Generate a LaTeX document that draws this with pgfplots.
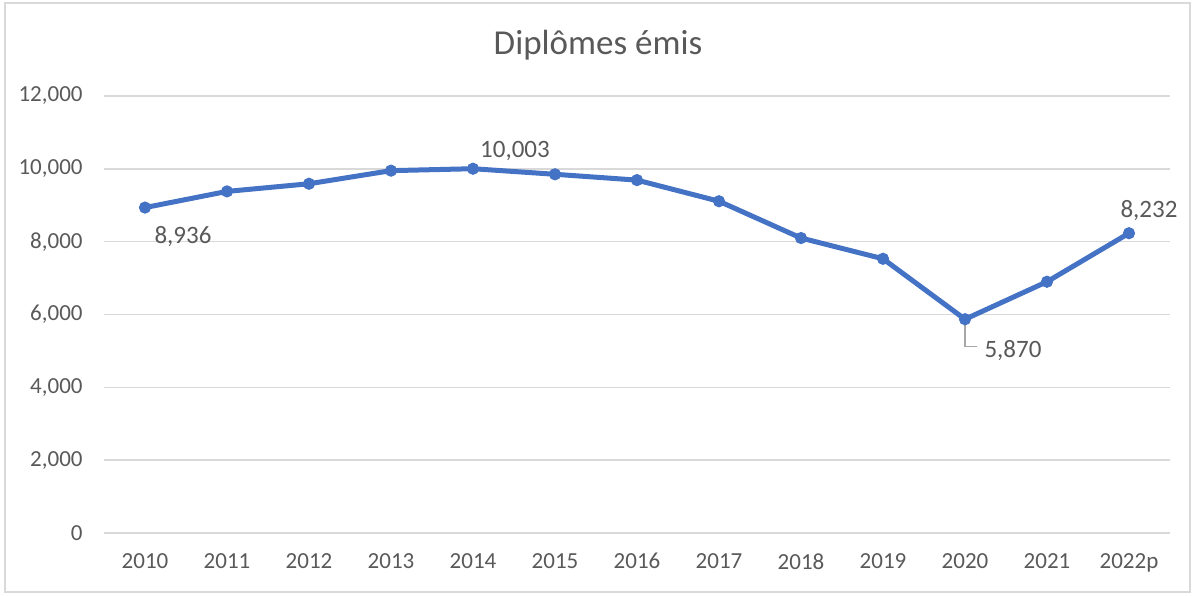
\documentclass[border=0pt]{standalone}
\usepackage{pgfplots}
\pgfplotsset{compat=1.18}
\usepackage{fontspec}
\setmainfont{Carlito}
\definecolor{lineblue}{HTML}{4472C4}
\definecolor{txt}{HTML}{595959}
\definecolor{gridgray}{HTML}{D9D9D9}
\begin{document}
\begin{tikzpicture}
\useasboundingbox (0,0) rectangle (597.5pt,297.5pt);
\draw[gridgray, line width=0.8pt] (2.5pt,1.5pt) rectangle (595pt,296pt);
\node[text=txt, font=\fontsize{17.5pt}{20pt}\selectfont] at (299pt,275pt) {Diplômes émis};
\begin{axis}[
  at={(52pt,31pt)}, anchor=south west,
  scale only axis, width=533pt, height=218.5pt,
  xmin=-0.5, xmax=12.5, ymin=0, ymax=12000,
  xtick={0,...,12},
  xticklabels={2010,2011,2012,2013,2014,2015,2016,2017,2018,2019,2020,2021,2022p},
  ytick={0,2000,...,12000},
  scaled ticks=false,
  /pgf/number format/.cd, fixed, precision=0, 1000 sep={,}, assume math mode=true,
  /pgfplots/.cd,
  axis line style={draw=none},
  major tick length=0pt,
  xmajorgrids=false, ymajorgrids=true,
  major grid style={draw=gridgray, line width=0.8pt},
  ticklabel style={text=txt, font=\fontsize{11.5pt}{13pt}\selectfont, inner sep=0pt},
  yticklabel style={anchor=east, xshift=-10.5pt},
  xticklabel style={anchor=north, yshift=-10pt},
  clip=false,
]
\addplot[lineblue, line width=2.5pt, mark=*, mark size=2.8pt, mark options={fill=lineblue, draw=lineblue, line width=0.5pt}]
coordinates {(0,8936) (1,9380) (2,9590) (3,9950) (4,10003) (5,9850) (6,9690) (7,9110) (8,8100) (9,7530) (10,5870) (11,6900) (12,8232)};
\begin{scope}[every node/.style={text=txt, font=\fontsize{12.5pt}{14pt}\selectfont, inner sep=0pt}]
\node[xshift=19pt, yshift=-14.5pt] at (axis cs:0,8936) {8,936};
\node[xshift=21pt, yshift=9pt] at (axis cs:4,10003) {10,003};
\node[xshift=10pt, yshift=11.5pt] at (axis cs:12,8232) {8,232};
\node[xshift=24pt, yshift=-15.5pt] at (axis cs:10,5870) {5,870};
\draw[gray!70, line width=0.6pt] ([yshift=-3pt]axis cs:10,5870) -- ([yshift=-13.5pt]axis cs:10,5870) -- ([yshift=-13.5pt, xshift=6pt]axis cs:10,5870);
\end{scope}
\end{axis}
\end{tikzpicture}
\end{document}
